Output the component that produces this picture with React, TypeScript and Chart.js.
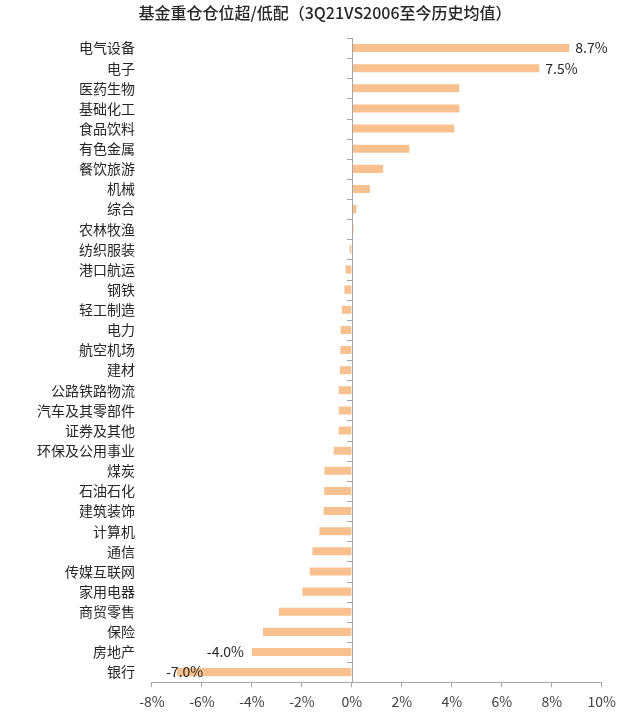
import React, { useEffect, useRef } from "react";
import { Chart, registerables } from "chart.js";

Chart.register(...registerables);

const titleText = "基金重仓仓位超/低配（3Q21VS2006至今历史均值）";

const categories = [
  "电气设备", "电子", "医药生物", "基础化工", "食品饮料", "有色金属", "餐饮旅游", "机械",
  "综合", "农林牧渔", "纺织服装", "港口航运", "钢铁", "轻工制造", "电力", "航空机场",
  "建材", "公路铁路物流", "汽车及其零部件", "证券及其他", "环保及公用事业", "煤炭", "石油石化", "建筑装饰",
  "计算机", "通信", "传媒互联网", "家用电器", "商贸零售", "保险", "房地产", "银行",
];

const values = [
  8.7, 7.5, 4.3, 4.3, 4.1, 2.3, 1.25, 0.72,
  0.18, 0.07, -0.09, -0.25, -0.3, -0.4, -0.45, -0.46,
  -0.48, -0.53, -0.53, -0.53, -0.73, -1.1, -1.11, -1.13,
  -1.3, -1.58, -1.69, -1.98, -2.92, -3.56, -4.0, -7.0,
];

const labelledIndexes = [0, 1, 30, 31];

const xMin = -8;
const xMax = 10;
const xStep = 2;

const FONT = "'Noto Sans CJK SC', 'Noto Sans', sans-serif";

const titlePlugin = {
  id: "customTitle",
  afterDraw(chart: any) {
    const { ctx } = chart;
    ctx.save();
    ctx.font = `500 16px ${FONT}`;
    ctx.fillStyle = "#262626";
    ctx.textAlign = "center";
    ctx.textBaseline = "middle";
    ctx.fillText(titleText, 325, 13);
    ctx.restore();
  },
};

const zeroAxisPlugin = {
  id: "zeroAxis",
  afterDatasetsDraw(chart: any) {
    const { ctx, chartArea, scales } = chart;
    const x0 = scales.x.getPixelForValue(0);
    const yScale = scales.y;
    const n = categories.length;
    ctx.save();
    ctx.strokeStyle = "#a6a6a6";
    ctx.lineWidth = 1;
    ctx.beginPath();
    ctx.moveTo(Math.round(x0) + 0.5, chartArea.top);
    ctx.lineTo(Math.round(x0) + 0.5, chartArea.bottom);
    const half = (yScale.getPixelForValue(1) - yScale.getPixelForValue(0)) / 2;
    for (let i = 0; i <= n; i++) {
      const y = Math.round(yScale.getPixelForValue(i) - half) + 0.5;
      ctx.moveTo(Math.round(x0) - 5, y);
      ctx.lineTo(Math.round(x0), y);
    }
    ctx.stroke();

    // data labels
    ctx.font = `14px ${FONT}`;
    ctx.fillStyle = "#262626";
    ctx.textBaseline = "middle";
    const meta = chart.getDatasetMeta(0);
    labelledIndexes.forEach((i) => {
      const bar = meta.data[i];
      const v = values[i];
      const txt = v.toFixed(1) + "%";
      const w = ctx.measureText(txt).width;
      if (v >= 0) {
        ctx.textAlign = "left";
        ctx.fillText(txt, bar.x + 6, bar.y);
      } else {
        ctx.textAlign = "right";
        let x = bar.x - 8;
        if (x - w < chartArea.left + 14) x = chartArea.left + 14 + w;
        ctx.fillText(txt, x, bar.y);
      }
    });
    ctx.restore();
  },
};

export default function App() {
  const ref = useRef<HTMLCanvasElement | null>(null);
  useEffect(() => {
    if (!ref.current) return;
    const chart = new Chart(ref.current, {
      type: "bar",
      data: {
        labels: categories,
        datasets: [
          {
            data: values,
            backgroundColor: "#f9c18f",
            borderWidth: 0,
            barPercentage: 0.4,
            categoryPercentage: 1,
          },
        ],
      },
      options: {
        indexAxis: "y",
        animation: false,
        responsive: false,
        maintainAspectRatio: false,
        layout: { padding: { top: 38, right: 14, bottom: 4, left: 20 } },
        plugins: {
          legend: { display: false },
          tooltip: { enabled: false },
          title: { display: false },
        },
        scales: {
          x: {
            min: xMin,
            max: xMax,
            ticks: {
              stepSize: xStep,
              color: "#404040",
              font: { family: FONT, size: 14 },
              padding: 6,
              callback: (v: any) => `${v}%`,
            },
            grid: {
              display: true,
              drawOnChartArea: false,
              drawTicks: true,
              tickLength: 5,
              color: "#a6a6a6",
            },
            border: { display: true, color: "#a6a6a6" },
          },
          y: {
            ticks: {
              color: "#262626",
              font: { family: FONT, size: 14 },
              padding: 17,
              autoSkip: false,
            },
            grid: { display: false, drawTicks: false },
            border: { display: false },
          },
        },
      },
      plugins: [zeroAxisPlugin, titlePlugin],
    });
    return () => chart.destroy();
  }, []);
  return (
    <div style={{ position: "fixed", left: 0, top: 0, width: 622, height: 720, background: "#fff" }}>
      <canvas ref={ref} width={622} height={720} style={{ width: 622, height: 720 }} />
    </div>
  );
}
